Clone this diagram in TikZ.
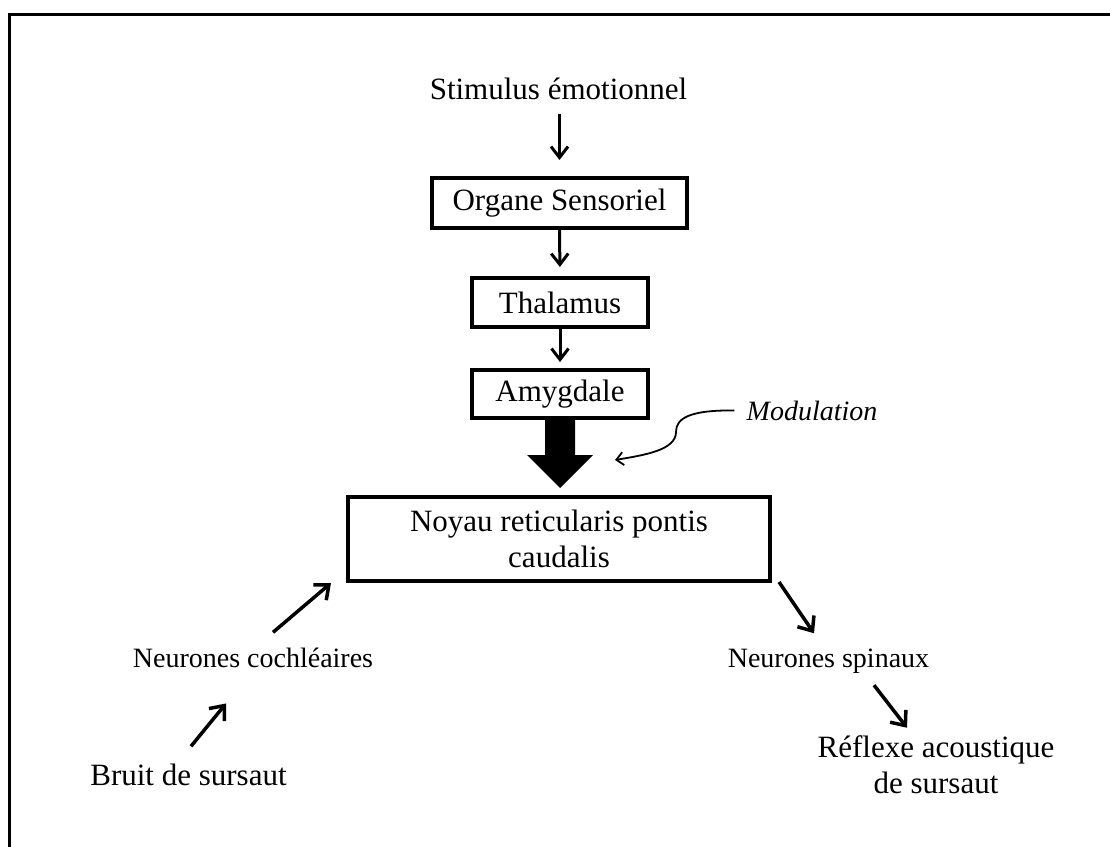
\documentclass[tikz,border=0pt]{standalone}
\usepackage{fontspec}
\setmainfont{Liberation Serif}
\usetikzlibrary{arrows.meta,calc}
\begin{document}
\begin{tikzpicture}[x=1pt,y=-1pt,
  box/.style={draw,line width=3.5pt,inner sep=0pt,outer sep=0pt,font=\fontsize{31}{36}\selectfont},
  lbl/.style={inner sep=0pt,font=\fontsize{31}{36}\selectfont},
  slbl/.style={inner sep=0pt,font=\fontsize{28}{33}\selectfont},
  darr/.style={line width=3pt,-{Straight Barb[length=11pt,width=17pt]}},
  diarr/.style={line width=3.5pt,-{Straight Barb[length=12pt,width=20pt]}},
  marr/.style={line width=1.8pt,-{Straight Barb[length=7pt,width=13pt]}}]
\useasboundingbox (0,0) rectangle (1110,846);
\fill[white] (0,0) rectangle (1110,846);
\draw[line width=3pt] (9,850) -- (9,14) -- (1115,14);

\node[lbl,anchor=base] (stim) at (558.5,99) {Stimulus émotionnel};
\node[box,minimum width=255pt,minimum height=50pt] (org) at (559.5,203) {Organe Sensoriel};
\node[box,minimum width=176pt,minimum height=49pt] (thal) at (560,302.5) {Thalamus};
\node[box,minimum width=176pt,minimum height=48pt] (amyg) at (560,394) {Amygdale};
\node[box,minimum width=422pt,minimum height=84pt,align=center] (noyau) at (559,539) {Noyau reticularis pontis\\caudalis};
\node[slbl,anchor=base,font=\fontsize{28}{33}\selectfont\itshape] (mod) at (812,420) {Modulation};
\node[slbl,anchor=base] (coch) at (253,667) {Neurones cochléaires};
\node[slbl,anchor=base] (spin) at (828.5,667) {Neurones spinaux};
\node[lbl,anchor=base] (bruit) at (188.5,785) {Bruit de sursaut};
\node[lbl,align=center] (reflexe) at (936,765) {Réflexe acoustique\\de sursaut};

\draw[darr,shorten >=18pt] ([yshift=-14pt]stim.south -| org.north) -- (org.north);
\draw[darr,shorten >=11pt] (org.south) -- (thal.north);
\draw[darr,shorten >=8pt] (thal.south) -- (amyg.north);

\fill (amyg.south) ++(-15,0) -- ++(0,37) -- ++(-18,0) -- ($(amyg.south)+(0,70)$) -- ++(33,-33) -- ++(-18,0) -- ++(0,-37) -- cycle;

\coordinate (modend) at (615,460);
\draw[marr] ([xshift=-12pt]mod.west) .. controls (690,410) and (676,418) .. (676,432) .. controls (676,450) and (645,455) .. (modend);

\draw[diarr] ($(coch.north)+(20,-15)$) -- ($(noyau.south west)+(-17,2)$);
\draw[diarr] ($(bruit.north)+(2.5,-17)$) -- ($(coch.south)+(-27,36)$);
\draw[diarr] ($(noyau.south east)+(9,1)$) -- ($(spin.north)+(-14.5,-15)$);
\draw[diarr] ($(spin.south)+(45.5,12)$) -- ($(reflexe.north)+(-29,-8)$);
\end{tikzpicture}
\end{document}
